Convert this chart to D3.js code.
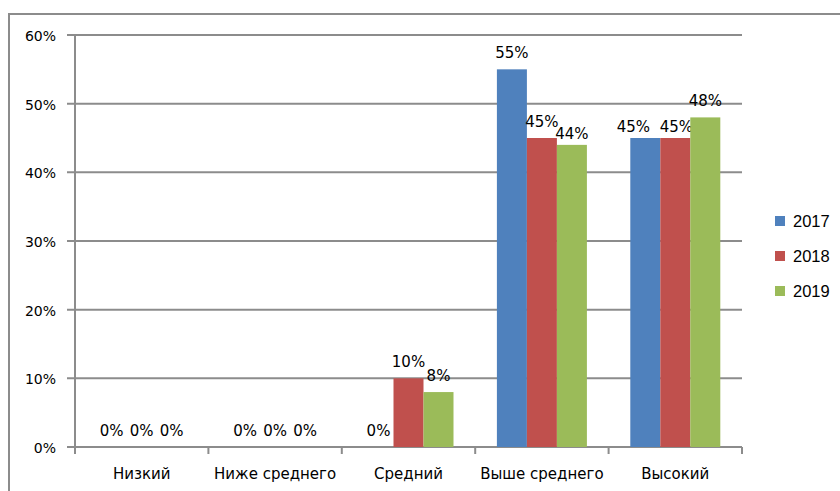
<!DOCTYPE html>
<html>
<head>
<meta charset="utf-8">
<script src="https://cdn.jsdelivr.net/npm/d3@7"></script>
<style>
body { margin: 0; background: #fff; }
text { font-family: "DejaVu Sans", Verdana, sans-serif; font-size: 15px; fill: #000; }
</style>
</head>
<body>
<div id="chart"></div>
<script>
// Data
var categories = ["Низкий", "Ниже среднего", "Средний", "Выше среднего", "Высокий"];
var years = ["2017", "2018", "2019"];
var values2017 = [0, 0, 0, 55, 45];
var values2018 = [0, 0, 10, 45, 45];
var values2019 = [0, 0, 8, 44, 48];
var yTicks = [0, 10, 20, 30, 40, 50, 60];
var colors = ["#4F81BD", "#C0504D", "#9BBB59"];

var series = [values2017, values2018, values2019];

// label nudges to keep neighbouring labels apart (like Excel does)
var nudge = { "Высокий|2017": [-12, 5], "Высокий|2018": [1, 5], "Выше среднего|2019": [0, 5] };

var w = 840, h = 491;
var svg = d3.select("#chart").append("svg")
    .attr("width", w).attr("height", h);

// outer frame (only top and left visible)
svg.append("rect")
    .attr("x", 9).attr("y", 14)
    .attr("width", 900).attr("height", 600)
    .attr("fill", "none").attr("stroke", "#8c8c8c").attr("stroke-width", 2);

var x0 = d3.scaleBand().domain(categories).range([75, 742]);
var x1 = d3.scaleBand().domain(years).range([0, 90]);
var y = d3.scaleLinear().domain([0, 60]).range([447, 35]);

// gridlines with outer ticks
svg.selectAll(".grid").data(yTicks).enter().append("line")
    .attr("x1", 67).attr("x2", 742)
    .attr("y1", function(d) { return y(d); })
    .attr("y2", function(d) { return y(d); })
    .attr("stroke", "#8c8c8c").attr("stroke-width", 2);

// y axis line
svg.append("line")
    .attr("x1", 75).attr("x2", 75).attr("y1", 35).attr("y2", 447)
    .attr("stroke", "#8c8c8c").attr("stroke-width", 2);

// y tick labels
svg.selectAll(".ylab").data(yTicks).enter().append("text")
    .attr("x", 56).attr("y", function(d) { return y(d) + 6; })
    .attr("text-anchor", "end")
    .style("font-size", "14px")
    .text(function(d) { return d + "%"; });

// x ticks
var xTickPos = categories.map(function(c) { return x0(c); }).concat([742]);
svg.selectAll(".xt").data(xTickPos).enter().append("line")
    .attr("x1", function(d) { return d; }).attr("x2", function(d) { return d; })
    .attr("y1", 447).attr("y2", 454)
    .attr("stroke", "#8c8c8c").attr("stroke-width", 2);

// bars
var groups = svg.selectAll(".grp").data(categories).enter().append("g")
    .attr("transform", function(c) { return "translate(" + (x0(c) + (x0.bandwidth() - 90) / 2) + ",0)"; });

groups.each(function(c, ci) {
    var g = d3.select(this);
    years.forEach(function(yr, si) {
        var v = series[si][ci];
        var n = nudge[c + "|" + yr] || [0, 0];
        if (v > 0) {
            g.append("rect")
                .attr("x", x1(yr)).attr("width", x1.bandwidth())
                .attr("y", y(v)).attr("height", y(0) - y(v))
                .attr("fill", colors[si]);
        }
        g.append("text")
            .attr("x", x1(yr) + x1.bandwidth() / 2 + n[0])
            .attr("y", y(v) - 11 + n[1])
            .attr("text-anchor", "middle")
            .text(v + "%");
    });
});

// x category labels
svg.selectAll(".xlab").data(categories).enter().append("text")
    .attr("x", function(c) { return x0(c) + x0.bandwidth() / 2; })
    .attr("y", 479)
    .attr("text-anchor", "middle")
    .text(function(c) { return c; });

// legend
var legend = svg.selectAll(".leg").data(years).enter().append("g")
    .attr("transform", function(d, i) { return "translate(775," + (221 + i * 35) + ")"; });
legend.append("rect")
    .attr("x", 0).attr("y", -5).attr("width", 10).attr("height", 10)
    .attr("fill", function(d, i) { return colors[i]; });
legend.append("text")
    .attr("x", 18).attr("y", 6)
    .style("font-family", "'Liberation Sans', Arial, sans-serif")
    .style("font-size", "16.5px")
    .text(function(d) { return d; });
</script>
</body>
</html>
